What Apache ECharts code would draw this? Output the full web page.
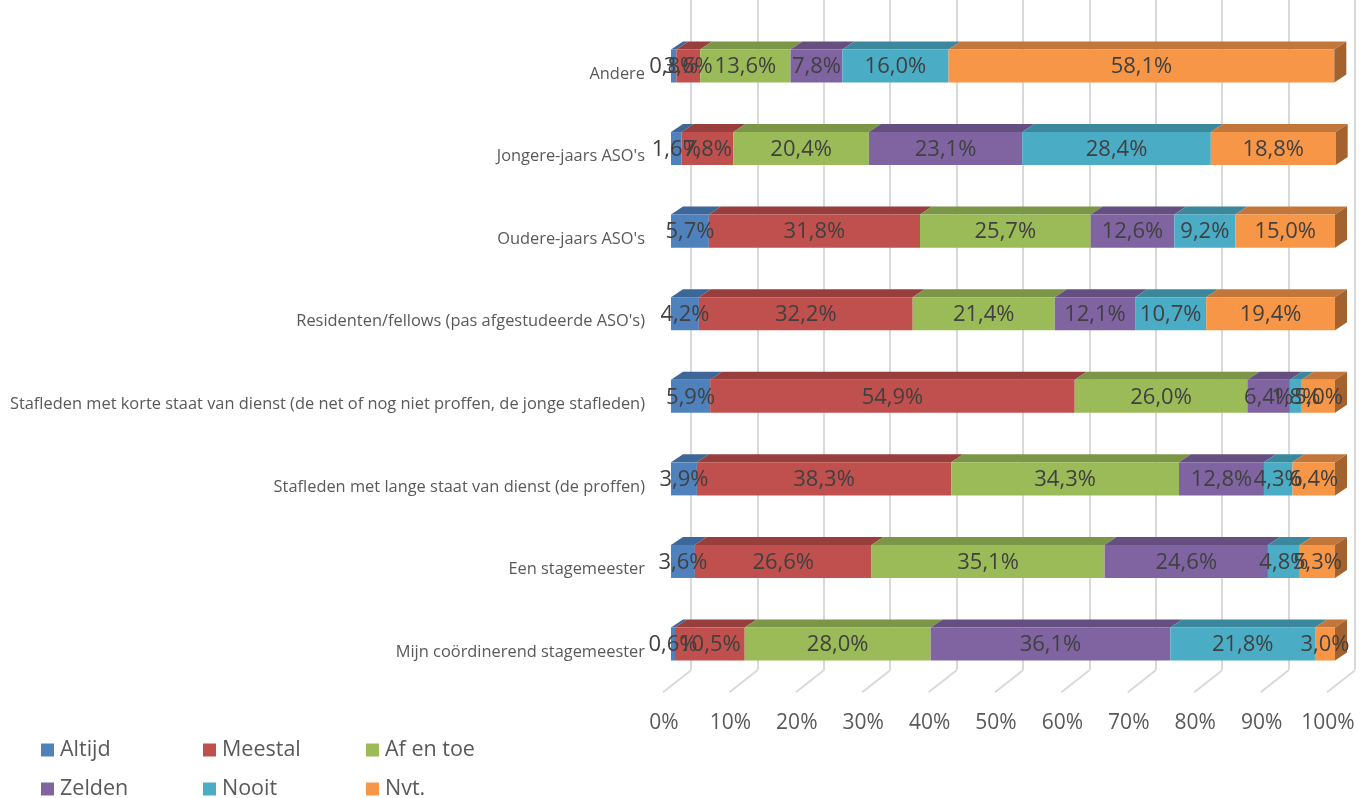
<!DOCTYPE html>
<html>
<head>
<meta charset="utf-8">
<script src="https://cdn.jsdelivr.net/npm/echarts@6/dist/echarts.min.js"></script>
<style>
html,body{margin:0;padding:0;background:#fff;}
#chart{width:1366px;height:798px;}
</style>
</head>
<body>
<div id="chart"></div>
<script>
const categories = [
  'Andere',
  "Jongere-jaars ASO's",
  "Oudere-jaars ASO's",
  "Residenten/fellows (pas afgestudeerde ASO's)",
  'Stafleden met korte staat van dienst (de net of nog niet proffen, de jonge stafleden)',
  'Stafleden met lange staat van dienst (de proffen)',
  'Een stagemeester',
  'Mijn coördinerend stagemeester'
];
const seriesNames = ['Altijd', 'Meestal', 'Af en toe', 'Zelden', 'Nooit', 'Nvt.'];
const altijd  = [0.8, 1.6, 5.7, 4.2, 5.9, 3.9, 3.6, 0.6];
const meestal = [3.6, 7.8, 31.8, 32.2, 54.9, 38.3, 26.6, 10.5];
const afEnToe = [13.6, 20.4, 25.7, 21.4, 26.0, 34.3, 35.1, 28.0];
const zelden  = [7.8, 23.1, 12.6, 12.1, 6.4, 12.8, 24.6, 36.1];
const nooit   = [16.0, 28.4, 9.2, 10.7, 1.8, 4.3, 4.8, 21.8];
const nvt     = [58.1, 18.8, 15.0, 19.4, 5.0, 6.4, 5.3, 3.0];
const xTicks  = [0, 10, 20, 30, 40, 50, 60, 70, 80, 90, 100];

const values = [altijd, meestal, afEnToe, zelden, nooit, nvt];
const colors = ['#4f81bd', '#c0504d', '#9bbb59', '#8064a2', '#4bacc6', '#f79646'];
const topColors = ['#3e6799', '#983f3d', '#7a9646', '#654f81', '#3b889d', '#c3763a'];
const sideColors = ['#34577f', '#7e3432', '#657c3a', '#54426b', '#317183', '#a4622f'];

const DX = 12, DY = 8;
const FONT = '"Open Sans", Lato, sans-serif';

function fmt(v) { return v.toFixed(1).replace('.', ',') + '%'; }

const series = [];
// floor diagonals
series.push({
  type: 'custom',
  name: 'floor',
  xAxisIndex: 0, yAxisIndex: 0,
  silent: true,
  clip: false,
  z: 1,
  data: xTicks.map(v => [v]),
  renderItem: function (params, api) {
    const v = api.value(0);
    const p = api.coord([v, 0]);
    const cs = params.coordSys;
    const bottom = cs.y + cs.height;
    return {
      type: 'line',
      shape: { x1: p[0] + 20, y1: bottom - 15, x2: p[0] - 8, y2: bottom + 7 },
      style: { stroke: '#d9d9d9', lineWidth: 2 }
    };
  }
});

values.forEach((arr, si) => {
  const data = arr.map((v, ci) => {
    let start = 0;
    for (let k = 0; k < si; k++) start += values[k][ci];
    return [start, start + v, ci, v];
  });
  const isLast = si === values.length - 1;
  series.push({
    type: 'custom',
    name: seriesNames[si],
    xAxisIndex: 0, yAxisIndex: 0,
    clip: false,
    z: 2,
    itemStyle: { color: colors[si] },
    encode: { x: [0, 1], y: 2 },
    data: data,
    renderItem: function (params, api) {
      const s = api.value(0), e = api.value(1), ci = api.value(2), v = api.value(3);
      const p0 = api.coord([s, ci]);
      const p1 = api.coord([e, ci]);
      const bh = api.size([0, 1])[1] * 0.4;
      const x0 = p0[0], x1 = p1[0];
      const yT = p0[1] - bh / 2, yB = p0[1] + bh / 2;
      const children = [
        { type: 'polygon', z2: 1,
          shape: { points: [[x0, yT], [x0 + DX, yT - DY], [x1 + DX, yT - DY], [x1, yT]] },
          style: { fill: topColors[si] } },
        { type: 'rect', z2: 2,
          shape: { x: x0, y: yT, width: x1 - x0, height: bh },
          style: { fill: colors[si] } }
      ];
      if (isLast) {
        children.push({ type: 'polygon', z2: 2,
          shape: { points: [[x1, yT], [x1 + DX, yT - DY], [x1 + DX, yB - DY], [x1, yB]] },
          style: { fill: sideColors[si] } });
      }
      children.push({ type: 'text', z2: 100,
        style: { text: fmt(v), x: (x0 + x1) / 2, y: p0[1] + 1, align: 'center', verticalAlign: 'middle',
                 fill: '#404040', font: '22px ' + FONT } });
      return { type: 'group', children: children };
    }
  });
});

const legendPos = [[41, 739], [203, 739], [366, 739], [41, 778], [203, 778], [366, 778]];
const legends = seriesNames.map((n, i) => ({
  data: [n],
  left: legendPos[i][0], top: legendPos[i][1],
  padding: 0,
  icon: 'rect', itemWidth: 13, itemHeight: 13, itemGap: 0,
  selectedMode: false,
  textStyle: { color: '#595959', fontSize: 21.5, fontFamily: FONT, padding: [0, 0, 0, 1] }
}));

const chart = echarts.init(document.getElementById('chart'), null, { renderer: 'canvas' });
chart.setOption({
  animation: false,
  backgroundColor: '#ffffff',
  legend: legends,
  grid: [
    { left: 671, right: 31, top: 24.7, bottom: 112.7 },
    { left: 691, right: 11, top: 0, bottom: 128 }
  ],
  xAxis: [
    { type: 'value', gridIndex: 0, min: 0, max: 100, interval: 10,
      axisLine: { show: false }, axisTick: { show: false }, splitLine: { show: false },
      axisLabel: { formatter: '{value}%', color: '#595959', fontSize: 21, fontFamily: FONT, margin: 27, padding: [0, 14, 0, 0] } },
    { type: 'value', gridIndex: 1, min: 0, max: 100, interval: 10,
      axisLine: { show: false }, axisTick: { show: false }, axisLabel: { show: false },
      splitLine: { show: true, lineStyle: { color: '#d9d9d9', width: 2 } } }
  ],
  yAxis: [
    { type: 'category', gridIndex: 0, data: categories, inverse: true,
      axisLine: { show: false }, axisTick: { show: false }, splitLine: { show: false },
      axisLabel: { color: '#595959', fontSize: 16.4, fontFamily: FONT, margin: 26, verticalAlign: 'top' } },
    { type: 'value', gridIndex: 1, show: false, min: 0, max: 1 }
  ],
  series: series
});
</script>
</body>
</html>
